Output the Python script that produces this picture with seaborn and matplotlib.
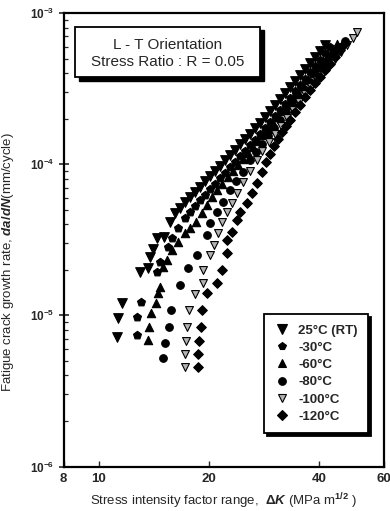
import matplotlib
matplotlib.use("Agg")
import matplotlib.pyplot as plt
from matplotlib.lines import Line2D
from matplotlib.patches import Rectangle
from matplotlib.ticker import FixedLocator, NullLocator, LogLocator, NullFormatter
import numpy as np
import pandas as pd
import seaborn as sns

# ---------------- data ----------------
labels = ["25°C (RT)", "-30°C", "-60°C", "-80°C", "-100°C", "-120°C"]

dk_rt = [11.20, 11.27, 11.56, 12.95, 13.63, 13.80, 14.07, 14.43, 15.07, 15.65,
         16.15, 16.67, 17.20, 17.76, 18.32, 18.91, 19.52, 20.14, 20.79, 21.46,
         22.14, 22.85, 23.59, 24.34, 25.12, 25.93, 26.76, 27.62, 28.50, 29.42,
         30.36, 31.33, 32.34, 33.37, 34.44, 35.55, 36.69, 37.86, 39.08, 40.33, 41.62]
da_rt = [7.15e-6, 9.55e-6, 1.20e-5, 1.93e-5, 2.05e-5, 2.42e-5, 2.74e-5, 3.24e-5, 3.29e-5, 4.13e-5,
         4.74e-5, 5.11e-5, 5.60e-5, 6.04e-5, 6.53e-5, 7.04e-5, 7.72e-5, 8.33e-5, 8.99e-5, 9.70e-5,
         1.06e-4, 1.15e-4, 1.24e-4, 1.36e-4, 1.46e-4, 1.58e-4, 1.73e-4, 1.87e-4, 2.05e-4, 2.24e-4,
         2.46e-4, 2.69e-4, 2.95e-4, 3.24e-4, 3.55e-4, 3.88e-4, 4.26e-4, 4.67e-4, 5.11e-4, 5.60e-4, 6.14e-4]

dk_m30 = [12.71, 12.71, 13.03, 14.43, 14.70, 15.46, 15.85, 16.46, 17.20, 17.76,
          18.32, 18.91, 19.52, 20.14, 20.79, 21.46, 22.14, 22.85, 23.59, 24.34,
          25.12, 25.93, 26.76, 27.62, 28.50, 29.42, 30.36, 31.33, 32.34, 33.37,
          34.44, 35.55, 36.69, 37.86, 39.08, 40.33, 41.62, 42.96]
da_m30 = [7.37e-6, 9.70e-6, 1.22e-5, 1.93e-5, 2.24e-5, 2.82e-5, 3.24e-5, 3.77e-5, 4.39e-5, 4.81e-5,
          5.27e-5, 5.77e-5, 6.23e-5, 6.83e-5, 7.37e-5, 8.08e-5, 8.72e-5, 9.55e-5, 1.03e-4, 1.13e-4,
          1.22e-4, 1.34e-4, 1.44e-4, 1.58e-4, 1.73e-4, 1.90e-4, 2.08e-4, 2.28e-4, 2.50e-4, 2.74e-4,
          3.04e-4, 3.34e-4, 3.66e-4, 4.07e-4, 4.46e-4, 4.88e-4, 5.43e-4, 5.95e-4]

dk_m60 = [13.63, 13.71, 13.89, 14.33, 14.52, 14.70, 14.98, 15.36, 15.85, 16.46,
          17.20, 17.76, 18.39, 19.15, 19.76, 20.40, 21.05, 21.73, 22.56, 23.29,
          24.04, 24.81, 25.61, 26.43, 27.28, 28.15, 29.06, 29.99, 30.95, 31.94,
          32.96, 34.01, 35.10, 36.23, 37.39, 38.59, 39.82, 41.10, 42.42, 43.77, 44.89]
da_m60 = [6.83e-6, 8.32e-6, 1.03e-5, 1.20e-5, 1.40e-5, 1.53e-5, 2.08e-5, 2.31e-5, 2.69e-5, 3.04e-5,
          3.49e-5, 3.77e-5, 4.13e-5, 4.74e-5, 5.35e-5, 6.04e-5, 6.73e-5, 7.37e-5, 8.20e-5, 8.99e-5,
          9.85e-5, 1.08e-4, 1.18e-4, 1.30e-4, 1.42e-4, 1.56e-4, 1.70e-4, 1.87e-4, 2.05e-4, 2.24e-4,
          2.46e-4, 2.74e-4, 3.00e-4, 3.29e-4, 3.60e-4, 4.01e-4, 4.39e-4, 4.81e-4, 5.27e-4, 5.77e-4, 6.23e-4]

dk_m80 = [14.98, 15.16, 15.55, 15.74, 16.67, 17.57, 18.56, 19.76, 20.14, 21.05,
          21.87, 22.85, 23.74, 24.81, 25.93, 26.93, 27.97, 29.06, 30.17, 31.33,
          32.55, 33.80, 35.10, 36.46, 37.86, 39.33, 40.84, 42.42, 44.06, 45.76, 47.21]
da_m80 = [5.19e-6, 6.53e-6, 8.32e-6, 1.08e-5, 1.58e-5, 2.05e-5, 2.50e-5, 3.39e-5, 4.07e-5, 4.81e-5,
          5.60e-5, 6.73e-5, 7.72e-5, 8.85e-5, 1.06e-4, 1.20e-4, 1.36e-4, 1.53e-4, 1.73e-4, 1.96e-4,
          2.21e-4, 2.50e-4, 2.78e-4, 3.14e-4, 3.49e-4, 3.88e-4, 4.32e-4, 4.81e-4, 5.35e-4, 5.95e-4, 6.53e-4]

dk_m100 = [17.20, 17.20, 17.31, 17.42, 17.65, 18.32, 19.27, 19.27, 20.14, 20.66,
           21.19, 21.73, 22.42, 23.15, 23.91, 24.81, 25.93, 27.10, 27.97, 29.24,
           30.36, 31.53, 32.75, 34.01, 35.32, 36.69, 38.10, 39.57, 41.10, 42.69,
           44.33, 46.05, 47.81, 49.66, 50.92]
da_m100 = [4.52e-6, 5.52e-6, 6.73e-6, 8.32e-6, 1.08e-5, 1.38e-5, 1.63e-5, 1.99e-5, 2.50e-5, 2.91e-5,
           3.49e-5, 4.13e-5, 4.81e-5, 5.52e-5, 6.43e-5, 7.60e-5, 8.99e-5, 1.06e-4, 1.22e-4, 1.40e-4,
           1.58e-4, 1.79e-4, 2.02e-4, 2.28e-4, 2.57e-4, 2.91e-4, 3.24e-4, 3.60e-4, 4.01e-4, 4.46e-4,
           4.96e-4, 5.52e-4, 6.14e-4, 6.83e-4, 7.48e-4]

dk_m120 = [18.67, 18.67, 18.79, 19.03, 19.15, 19.76, 21.05, 21.73, 22.42, 22.42,
           23.15, 23.91, 24.34, 25.44, 26.27, 27.10, 27.97, 28.68, 29.42, 30.17,
           30.95, 31.74, 32.55, 33.37, 34.44, 35.55, 36.69, 37.86, 39.08, 40.33,
           41.62, 42.96, 44.33, 45.76, 47.21]
da_m120 = [4.52e-6, 5.52e-6, 6.73e-6, 8.32e-6, 1.08e-5, 1.40e-5, 1.63e-5, 1.99e-5, 2.57e-5, 3.14e-5,
           3.55e-5, 4.26e-5, 4.81e-5, 5.52e-5, 6.43e-5, 7.48e-5, 8.85e-5, 1.03e-4, 1.16e-4, 1.32e-4,
           1.46e-4, 1.63e-4, 1.79e-4, 1.96e-4, 2.21e-4, 2.46e-4, 2.78e-4, 3.09e-4, 3.44e-4, 3.77e-4,
           4.19e-4, 4.60e-4, 5.11e-4, 5.69e-4, 6.33e-4]

x_ticks = [8, 10, 20, 40, 60]
y_ticks = [1e-6, 1e-5, 1e-4, 1e-3]
y_ticklabels = [r"$\mathbf{10^{-6}}$", r"$\mathbf{10^{-5}}$", r"$\mathbf{10^{-4}}$", r"$\mathbf{10^{-3}}$"]

# ---------------- style ----------------
sns.set_style("ticks")
plt.rcParams["font.family"] = ["Liberation Sans", "DejaVu Sans"]
plt.rcParams["mathtext.fontset"] = "custom"
plt.rcParams["mathtext.rm"] = "Liberation Sans:bold"
plt.rcParams["mathtext.bf"] = "Liberation Sans:bold"
plt.rcParams["mathtext.it"] = "Liberation Sans:italic:bold"

frames = []
for lab, xs, ys in zip(labels,
                       [dk_rt, dk_m30, dk_m60, dk_m80, dk_m100, dk_m120],
                       [da_rt, da_m30, da_m60, da_m80, da_m100, da_m120]):
    frames.append(pd.DataFrame({"dK": xs, "dadN": ys, "T": lab}))
df = pd.concat(frames, ignore_index=True)

styles = {
    "25°C (RT)": dict(marker="v", s=48, color="black"),
    "-30°C": dict(marker="p", s=36, color="black"),
    "-60°C": dict(marker="^", s=36, color="black"),
    "-80°C": dict(marker="o", s=30, color="black"),
    "-100°C": dict(marker="v", s=32, color="0.7"),
    "-120°C": dict(marker="D", s=24, color="black"),
}

fig = plt.figure(figsize=(3.9, 5.11), dpi=100)
ax = fig.add_axes([63.5 / 390, 1 - 466.5 / 511, 320 / 390, 453.5 / 511])

for lab in labels:
    st = styles[lab]
    sns.scatterplot(data=df[df["T"] == lab], x="dK", y="dadN", ax=ax,
                    marker=st["marker"], s=st["s"], color=st["color"],
                    edgecolor="black", linewidth=0.8, legend=False, zorder=3)

ax.set_xscale("log")
ax.set_yscale("log")
ax.set_xlim(8, 60)
ax.set_ylim(1e-6, 1e-3)

ax.xaxis.set_major_locator(FixedLocator(x_ticks))
ax.xaxis.set_minor_locator(NullLocator())
ax.set_xticklabels([str(t) for t in x_ticks], fontweight="bold", fontsize=9.5)
ax.yaxis.set_major_locator(FixedLocator(y_ticks))
ax.set_yticklabels(y_ticklabels, fontsize=8.5)
ax.yaxis.set_minor_locator(LogLocator(base=10, subs=np.arange(2, 10), numticks=20))
ax.yaxis.set_minor_formatter(NullFormatter())

ax.tick_params(axis="x", which="major", direction="in", length=4, width=1, pad=5)
ax.tick_params(axis="y", which="major", direction="inout", length=7, width=1.2, pad=3)
ax.tick_params(axis="y", which="minor", direction="in", length=3, width=0.9)
for sp in ax.spines.values():
    sp.set_linewidth(1.6)
    sp.set_color("black")

ax.set_xlabel(r"Stress intensity factor range,  $\Delta K$ (MPa m$^{1/2}$ )", fontsize=9.5, labelpad=4)
ax.set_ylabel(r"Fatigue crack growth rate, $da/dN$(mm/cycle)", fontsize=9.5, labelpad=4)
ax.yaxis.set_label_coords(-0.148, 0.45)

# text box with drop shadow
bx0, bx1 = (75 - 63.5) / 320, (260 - 63.5) / 320
by1, by0 = 1 - (27 - 13) / 453.5, 1 - (77 - 13) / 453.5
sx, sy = 3.5 / 320, 3.5 / 453.5
ax.add_patch(Rectangle((bx0 + sx, by0 - sy), bx1 - bx0, by1 - by0, transform=ax.transAxes,
                       facecolor="black", edgecolor="black", zorder=5))
ax.add_patch(Rectangle((bx0, by0), bx1 - bx0, by1 - by0, transform=ax.transAxes,
                       facecolor="white", edgecolor="black", linewidth=1.3, zorder=6))
ax.text((bx0 + bx1) / 2, by0 + (by1 - by0) * 0.64, "L - T Orientation", transform=ax.transAxes,
        ha="center", va="center", fontsize=11, zorder=7)
ax.text((bx0 + bx1) / 2, by0 + (by1 - by0) * 0.30, "Stress Ratio : R = 0.05", transform=ax.transAxes,
        ha="center", va="center", fontsize=11, zorder=7)

# legend
handles = []
for lab in labels:
    st = styles[lab]
    ms = np.sqrt(st["s"])
    handles.append(Line2D([], [], linestyle="none", marker=st["marker"], markersize=ms,
                          markerfacecolor=st["color"], markeredgecolor="black", markeredgewidth=0.8))
leg = ax.legend(handles=handles, labels=labels, loc="lower right",
                bbox_to_anchor=(0.952, 0.073), borderaxespad=0, frameon=True,
                fancybox=False, shadow={"color": "black", "alpha": 1},
                prop={"weight": "bold", "size": 9.5}, handletextpad=0.6,
                labelspacing=0.38, borderpad=0.8, handlelength=1.2)
leg.get_frame().set_edgecolor("black")
leg.get_frame().set_linewidth(1.3)
leg.set_zorder(8)

fig.savefig("out.png", dpi=100)
